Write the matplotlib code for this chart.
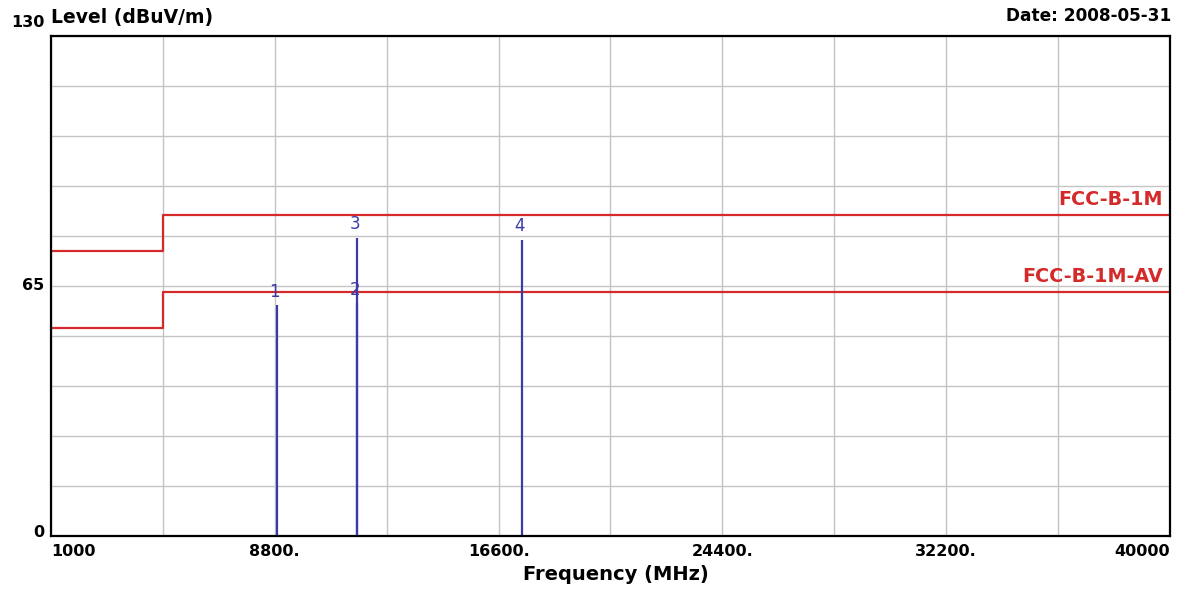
import matplotlib.pyplot as plt
import numpy as np

plt.rcParams['font.family'] = ['DejaVu Sans']

# limit lines (frequency in MHz, level in dBuV/m)
limit_freq = [1000, 4900, 40000]
limit_pk = [74.0, 83.5, 83.5]
limit_av = [54.0, 63.5, 63.5]

# measured markers
marker_id = ['1', '2', '3', '4']
marker_freq = [8880, 11660, 11660, 17420]
marker_level = [60.0, 60.5, 77.5, 77.0]

xtick_vals = [1000, 8800, 16600, 24400, 32200, 40000]
xtick_text = ['1000', '8800.', '16600.', '24400.', '32200.', '40000']
ytick_vals = [0, 65, 130]
ytick_text = ['0', '65', '130']

fig = plt.figure(figsize=(12, 5.96), dpi=100)
ax = fig.add_axes([51 / 1200, 60 / 596, 1119 / 1200, 500 / 596])
ax.set_xlim(1000, 40000)
ax.set_ylim(0, 130)

# grid: 10 divisions each way
ax.set_xticks(np.linspace(1000, 40000, 11))
ax.set_yticks(np.linspace(0, 130, 11))
ax.grid(True, color='#c4c4c4', linewidth=1.0)
ax.tick_params(length=0, labelbottom=False, labelleft=False)
for s in ax.spines.values():
    s.set_linewidth(1.6)
    s.set_color('black')

red = '#d42a2a'
ax.plot(limit_freq, limit_pk, drawstyle='steps-post', color=red, lw=1.6)
ax.plot(limit_freq, limit_av, drawstyle='steps-post', color=red, lw=1.6)
ax.text(39750, limit_pk[-1] + 1.5, 'FCC-B-1M', color=red, ha='right', va='bottom',
        fontsize=13.8, fontweight='bold')
ax.text(39750, limit_av[-1] + 1.5, 'FCC-B-1M-AV', color=red, ha='right', va='bottom',
        fontsize=13.8, fontweight='bold')

blue = '#3a3aa8'
ax.vlines(marker_freq, 0, marker_level, color=blue, lw=1.6)
for lab, f, lv in zip(marker_id, marker_freq, marker_level):
    ax.text(f - 80, lv + 1.2, lab, color=blue, ha='center', va='bottom', fontsize=12)

# axis labels drawn as text, like the analyser printout
for v, t in zip(xtick_vals, xtick_text):
    ha = 'left' if v == 1000 else ('right' if v == 40000 else 'center')
    ax.text(v, -2.0, t, ha=ha, va='top', fontsize=11.5, fontweight='bold')
for v, t in zip(ytick_vals, ytick_text):
    dy = 3.5 if v == 130 else (1 if v == 0 else 0)
    ax.text(-0.006, v + dy, t, transform=ax.get_yaxis_transform(), ha='right',
            va='center', fontsize=11.5, fontweight='bold')

fig.text(51 / 1200, 1 - 18 / 596, 'Level (dBuV/m)', ha='left', va='center',
         fontsize=13.5, fontweight='bold')
fig.text(1171 / 1200, 1 - 16 / 596, 'Date: 2008-05-31', ha='right', va='center',
         fontsize=12.2, fontweight='bold')
fig.text(616 / 1200, 1 - 575 / 596, 'Frequency (MHz)', ha='center', va='center',
         fontsize=14, fontweight='bold')

fig.savefig('out.png', dpi=100)
